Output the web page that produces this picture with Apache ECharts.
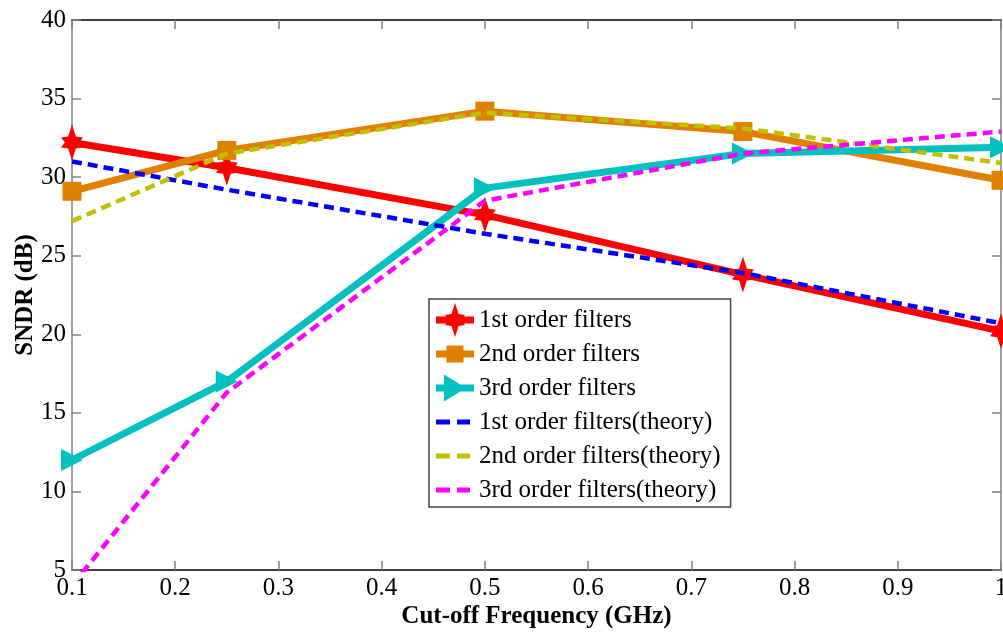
<!DOCTYPE html>
<html>
<head>
<meta charset="utf-8">
<script src="https://cdn.jsdelivr.net/npm/echarts@6/dist/echarts.min.js"></script>
<style>html,body{margin:0;padding:0;background:#fff;}#c{width:1003px;height:632px;}</style>
</head>
<body>
<div id="c"></div>
<script>
const freqs = [0.1, 0.25, 0.5, 0.75, 1.0];
const first = [32.2, 30.6, 27.6, 23.8, 20.2];
const second = [29.1, 31.7, 34.2, 32.9, 29.8];
const third = [12.0, 17.0, 29.3, 31.5, 31.9];
const firstTheory = [31.0, 29.2, 26.4, 23.9, 20.7];
const secondTheory = [27.2, 31.5, 34.1, 33.1, 30.9];
const thirdTheory = [4.0, 16.3, 28.5, 31.5, 32.9];
const seriesNames = ['1st order filters', '2nd order filters', '3rd order filters',
  '1st order filters(theory)', '2nd order filters(theory)', '3rd order filters(theory)'];
const xTitle = 'Cut-off Frequency (GHz)';
const yTitle = 'SNDR (dB)';

const pair = arr => freqs.map((f, i) => [f, arr[i]]);
const FONT = '"Liberation Serif", "Times New Roman", serif';
const starPath = 'path://M0,-18 L3.5,-6 L10,-5 L6.5,0 L10,5 L3.5,6 L0,18 L-3.5,6 L-10,5 L-6.5,0 L-10,-5 L-3.5,-6 Z';

// legend icons: thick line + marker, or two dashes; invisible degenerate points pad bbox to 38x34
const pad = 'M-19,-17 L-19,-17 Z M19,17 L19,17 Z ';
const lineRect = 'M-19,-3.5 H19 V3.5 H-19 Z ';
const iconStar = 'path://' + pad + lineRect + 'M0,-17 L3.5,-6 L10,-5 L6.5,0 L10,5 L3.5,6 L0,17 L-3.5,6 L-10,5 L-6.5,0 L-10,-5 L-3.5,-6 Z';
const iconSquare = 'path://' + pad + lineRect + 'M-8.5,-8.5 H8.5 V8.5 H-8.5 Z';
const iconTri = 'path://' + pad + lineRect + 'M-11,-13.5 L11,0 L-11,13.5 Z';
const iconDash = 'path://' + pad + 'M-19,-2.5 H-5 V2.5 H-19 Z M2,-2.5 H15 V2.5 H2 Z';
const icons = [iconStar, iconSquare, iconTri, iconDash, iconDash, iconDash];

function solid(name, data, color, symbol, size, rotate) {
  return {
    name, type: 'line', data: pair(data), color,
    lineStyle: { width: 7, color },
    itemStyle: { color },
    symbol, symbolSize: size, symbolRotate: rotate || 0, showSymbol: true, z: 2
  };
}
function dashed(name, data, color) {
  return {
    name, type: 'line', data: pair(data), color,
    lineStyle: { width: 4.5, color, type: [10, 6] },
    itemStyle: { color },
    symbol: 'none', z: 3
  };
}

const legendData = seriesNames.map((n, i) => ({ name: n, icon: icons[i] }));

const chart = echarts.init(document.getElementById('c'));
chart.setOption({
  animation: false,
  backgroundColor: '#fff',
  grid: { left: 72, right: 2, top: 20, bottom: 62, outerBoundsMode: 'none', containLabel: false },
  legend: {
    orient: 'vertical', left: 429, top: 299,
    backgroundColor: '#fff',
    borderColor: '#444', borderWidth: 1.5,
    padding: [4, 10, 0, 7],
    itemWidth: 38, itemHeight: 34, itemGap: 0,
    symbolKeepAspect: true,
    textStyle: { fontFamily: FONT, fontSize: 25, color: '#000' },
    data: legendData
  },
  xAxis: [{
    type: 'value', min: 0.1, max: 1, interval: 0.1,
    name: xTitle, nameLocation: 'middle', nameGap: 34, nameMoveOverlap: false,
    nameTextStyle: { fontFamily: FONT, fontSize: 25, fontWeight: 'bold', color: '#000' },
    axisLine: { show: true, lineStyle: { color: '#000', width: 1.5 } },
    axisTick: { show: true, inside: true, length: 9, lineStyle: { color: '#808080', width: 1.5 } },
    axisLabel: { fontFamily: FONT, fontSize: 25, color: '#000', margin: 6,
      formatter: v => String(Math.round(v * 10) / 10) },
    splitLine: { show: false }
  }, {
    type: 'value', position: 'top', min: 0.1, max: 1, interval: 0.1,
    axisLine: { show: true, lineStyle: { color: '#000', width: 1.5 } },
    axisTick: { show: true, inside: true, length: 9, lineStyle: { color: '#808080', width: 1.5 } },
    axisLabel: { show: false }, splitLine: { show: false }
  }],
  yAxis: [{
    type: 'value', min: 5, max: 40, interval: 5,
    name: yTitle, nameLocation: 'middle', nameGap: 34, nameRotate: 90, nameMoveOverlap: false,
    nameTextStyle: { fontFamily: FONT, fontSize: 25, fontWeight: 'bold', color: '#000' },
    axisLine: { show: true, lineStyle: { color: '#808080', width: 1.5 } },
    axisTick: { show: true, inside: true, length: 9, lineStyle: { color: '#808080', width: 1.5 } },
    axisLabel: { fontFamily: FONT, fontSize: 25, color: '#000', margin: 6 },
    splitLine: { show: false }
  }, {
    type: 'value', position: 'right', min: 5, max: 40, interval: 5,
    axisLine: { show: true, lineStyle: { color: '#808080', width: 1.5 } },
    axisTick: { show: true, inside: true, length: 9, lineStyle: { color: '#808080', width: 1.5 } },
    axisLabel: { show: false }, splitLine: { show: false }
  }],
  series: [
    solid(seriesNames[0], first, '#FF0000', starPath, [22, 36]),
    solid(seriesNames[1], second, '#E08000', 'rect', 19),
    solid(seriesNames[2], third, '#00C0C0', 'triangle', 22, -90),
    dashed(seriesNames[3], firstTheory, '#0000FF'),
    dashed(seriesNames[4], secondTheory, '#C0C000'),
    dashed(seriesNames[5], thirdTheory, '#FF00FF')
  ]
});
</script>
</body>
</html>
